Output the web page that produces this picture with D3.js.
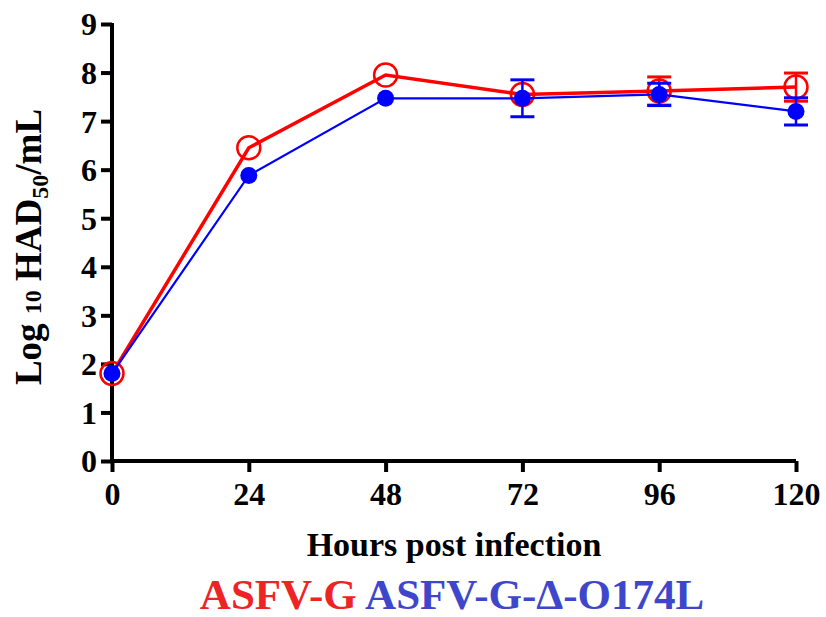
<!DOCTYPE html>
<html>
<head>
<meta charset="utf-8">
<script src="https://cdn.jsdelivr.net/npm/d3@7"></script>
<style>
  body { margin: 0; background: #fff; }
  text { font-family: "Liberation Serif", "Times New Roman", serif; font-weight: bold; }
</style>
</head>
<body>
<div id="chart"></div>
<script>
// data
const hours = [0, 24, 48, 72, 96, 120];
const asfvG = [1.8, 6.45, 7.95, 7.55, 7.62, 7.7];
const asfvGErr = [0.1, 0.08, 0.08, 0.1, 0.29, 0.29];
const asfvDel = [1.8, 5.88, 7.47, 7.47, 7.55, 7.2];
const asfvDelErr = [0.05, 0.05, 0.05, 0.38, 0.23, 0.28];
const yTicks = [0, 1, 2, 3, 4, 5, 6, 7, 8, 9];

const W = 826, H = 617;

const svg = d3.select("#chart").append("svg").attr("width", W).attr("height", H);

const x = d3.scaleLinear().domain([0, 120]).range([112, 796]);
const y = d3.scaleLinear().domain([0, 9]).range([461, 24]);

// axes
const xAxis = svg.append("g").attr("transform", `translate(0,${y(0)})`)
  .call(d3.axisBottom(x).tickValues(hours).tickSize(11).tickPadding(10).tickSizeOuter(0));
const yAxis = svg.append("g").attr("transform", `translate(${x(0)},0)`)
  .call(d3.axisLeft(y).tickValues(yTicks).tickSize(11).tickPadding(4).tickSizeOuter(0));

[xAxis, yAxis].forEach(a => {
  a.selectAll("path, line").attr("stroke", "#000").attr("stroke-width", 4);
  a.selectAll("text").attr("fill", "#000").style("font-size", "32px");
});
yAxis.select(".domain").attr("d", `M0,${y(9) - 1}V${y(0) + 2}`);
xAxis.select(".domain").attr("d", `M${x(0) - 2},0H${x(120)}`);
yAxis.selectAll("text").attr("dy", "0.34em");
xAxis.selectAll("text").attr("dy", "0.72em");

const series = [
  { vals: asfvG, err: asfvGErr, color: "#ff0000", lw: 3.5, open: true },
  { vals: asfvDel, err: asfvDelErr, color: "#0000ff", lw: 2.2, open: false }
];

const line = d3.line().x((d, i) => x(hours[i])).y(d => y(d));

series.forEach(s => {
  const g = svg.append("g");
  // error bars
  s.vals.forEach((v, i) => {
    const e = s.err[i];
    if (e < 0.12) return;
    const cx = x(hours[i]);
    g.append("line").attr("x1", cx).attr("x2", cx).attr("y1", y(v - e)).attr("y2", y(v + e))
      .attr("stroke", s.color).attr("stroke-width", 2.5);
    [v - e, v + e].forEach(t => {
      g.append("line").attr("x1", cx - 12).attr("x2", cx + 12).attr("y1", y(t)).attr("y2", y(t))
        .attr("stroke", s.color).attr("stroke-width", 3);
    });
  });
  g.append("path").datum(s.vals).attr("d", line).attr("fill", "none")
    .attr("stroke", s.color).attr("stroke-width", s.lw);
  g.selectAll("circle").data(s.vals).join("circle")
    .attr("cx", (d, i) => x(hours[i])).attr("cy", d => y(d))
    .attr("r", s.open ? 11.5 : 8.5)
    .attr("fill", s.open ? "#fff" : s.color)
    .attr("fill-opacity", s.open ? 0 : 1)
    .attr("stroke", s.color).attr("stroke-width", s.open ? 2.5 : 0);
});

// axis titles
svg.append("text").attr("x", 454).attr("y", 556).attr("text-anchor", "middle")
  .style("font-size", "34px").attr("fill", "#000").text("Hours post infection");

const yl = svg.append("text").attr("transform", `translate(41,247) rotate(-90)`)
  .attr("text-anchor", "middle").style("font-size", "37px").attr("fill", "#000");
yl.append("tspan").text("Log ");
yl.append("tspan").style("font-size", "24px").text("10");
yl.append("tspan").text(" HAD");
yl.append("tspan").style("font-size", "24px").attr("dy", 7).text("50");
yl.append("tspan").attr("dy", -7).text("/mL");

// legend
const lg = svg.append("text").attr("x", 452).attr("y", 609).attr("text-anchor", "middle")
  .style("font-size", "43px");
lg.append("tspan").attr("fill", "#ee2424").text("ASFV-G ");
lg.append("tspan").attr("fill", "#3e47cc").text("ASFV-G-\u0394-O174L");
</script>
</body>
</html>
